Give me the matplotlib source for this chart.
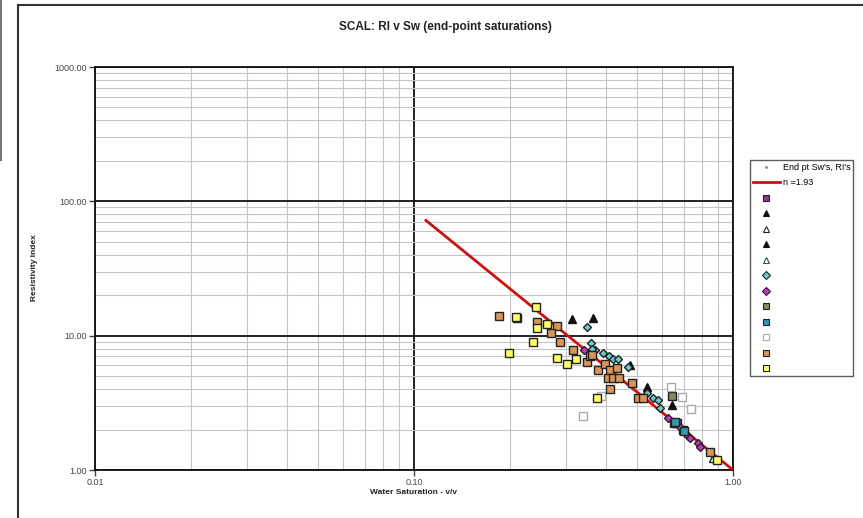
import numpy as np
import matplotlib
matplotlib.use("Agg")
import matplotlib.pyplot as plt
from matplotlib.lines import Line2D

plt.rcParams['font.family'] = ['Liberation Sans', 'DejaVu Sans']

# saturation exponent for the fitted line
n_exp = 1.93
fit_sw = [0.109, 1.0]

# end-point Sw / RI pairs, one list per sample group
purple_sw = [0.668, 0.697, 0.653]
purple_ri = [2.24, 1.99, 2.24]

tri_black_sw = [0.313, 0.364]
tri_black_ri = [13.3, 13.5]

tri_open_sw = [0.866]
tri_open_ri = [1.23]

tri_black2_sw = [0.538, 0.644, 0.475]
tri_black2_ri = [4.15, 3.05, 6.10]

tri_open2_sw = []
tri_open2_ri = []

cyan_sw = [0.348, 0.359, 0.369, 0.391, 0.409, 0.420, 0.436, 0.469,
           0.538, 0.561, 0.582, 0.590, 0.361]
cyan_ri = [11.6, 8.83, 7.83, 7.43, 7.06, 6.71, 6.71, 5.85,
           3.74, 3.44, 3.32, 2.89, 7.96]

magenta_sw = [0.626, 0.682, 0.707, 0.722, 0.733, 0.777, 0.788, 0.341]
magenta_ri = [2.44, 2.09, 1.89, 1.79, 1.73, 1.59, 1.48, 7.83]

grey_sq_sw = [0.644]
grey_sq_ri = [3.56]

teal_sq_sw = [0.658, 0.700]
teal_sq_ri = [2.28, 1.95]

open_sq_sw = [0.386, 0.339, 0.639, 0.692, 0.739]
open_sq_ri = [3.56, 2.52, 4.15, 3.50, 2.85]

tan_sw = [0.185, 0.210, 0.243, 0.281, 0.269, 0.287, 0.315, 0.348, 0.356,
          0.377, 0.412, 0.361, 0.397, 0.412, 0.433, 0.406, 0.420, 0.439,
          0.482, 0.504, 0.522, 0.847]
tan_ri = [14.0, 13.5, 12.6, 11.8, 10.5, 8.98, 7.83, 6.37, 7.06,
          5.55, 4.01, 7.18, 6.16, 5.55, 5.75, 4.84, 4.84, 4.84,
          4.44, 3.44, 3.44, 1.36]

yellow_sw = [0.209, 0.241, 0.243, 0.261, 0.236, 0.199, 0.281, 0.302,
             0.322, 0.375, 0.891]
yellow_ri = [13.8, 16.4, 11.4, 12.2, 8.98, 7.43, 6.82, 6.16,
             6.71, 3.44, 1.19]

fig = plt.figure(figsize=(8.63, 5.18), dpi=100)
fig.patch.set_facecolor('white')

# chart frame and the edge of the neighbouring panel
fig.add_artist(plt.Rectangle((18 / 863, -0.01), 0.99, 1 - 5 / 518 + 0.01,
                             transform=fig.transFigure, fill=False,
                             edgecolor='#333333', linewidth=1.5))
fig.add_artist(Line2D([1 / 863, 1 / 863], [1, 1 - 160 / 518],
                      transform=fig.transFigure, color='#777777', linewidth=1.5))

ax = fig.add_axes([95 / 863, 48 / 518, 638 / 863, 403 / 518])
ax.set_xscale('log')
ax.set_yscale('log')
ax.set_xlim(0.01, 1.0)
ax.set_ylim(1.0, 1000.0)

ax.grid(which='minor', color='#c4c4c4', linewidth=0.8)
ax.grid(which='major', color='#111111', linewidth=1.3)
ax.set_axisbelow(True)
for s in ax.spines.values():
    s.set_linewidth(1.3)
    s.set_color('#111111')

ax.set_xticks([0.01, 0.1, 1.0])
ax.set_xticklabels(['0.01', '0.10', '1.00'])
ax.set_yticks([1, 10, 100, 1000])
ax.set_yticklabels(['1.00', '10.00', '100.00', '1000.00'])
ax.tick_params(which='major', labelsize=6.5, length=4, width=1, colors='#444444', pad=2)
ax.tick_params(which='minor', length=0)

# Archie fit line RI = Sw^-n
fit_sw = np.array(fit_sw)
ax.plot(fit_sw, fit_sw ** (-n_exp), color='#cc1111', linewidth=2.0, zorder=3)

ed = '#222222'
series = [
    (purple_sw, purple_ri, dict(marker='s', mfc='#993399', mec=ed)),
    (tri_black_sw, tri_black_ri, dict(marker='^', mfc='#111111', mec='#111111')),
    (tri_open_sw, tri_open_ri, dict(marker='^', mfc='white', mec=ed)),
    (tri_black2_sw, tri_black2_ri, dict(marker='^', mfc='#111111', mec='#111111')),
    (tri_open2_sw, tri_open2_ri, dict(marker='^', mfc='white', mec='#335533')),
    (cyan_sw, cyan_ri, dict(marker='D', mfc='#66cccc', mec=ed)),
    (magenta_sw, magenta_ri, dict(marker='D', mfc='#cc33cc', mec=ed)),
    (grey_sq_sw, grey_sq_ri, dict(marker='s', mfc='#888866', mec=ed)),
    (teal_sq_sw, teal_sq_ri, dict(marker='s', mfc='#3399aa', mec=ed)),
    (open_sq_sw, open_sq_ri, dict(marker='s', mfc='white', mec='#aaaaaa')),
    (tan_sw, tan_ri, dict(marker='s', mfc='#d9955a', mec=ed)),
    (yellow_sw, yellow_ri, dict(marker='s', mfc='#ffff66', mec=ed)),
]
handles = [Line2D([], [], marker='.', markersize=2, color='#888888', linestyle='none'),
           Line2D([], [], color='#cc1111', linewidth=2.0)]
labels = ["End pt Sw's, RI's", 'n =' + f'{n_exp:.2f}']
for sw, ri, st in series:
    size = 4.5 if st['marker'] == 'D' else 5.5
    ax.plot(sw, ri, linestyle='none', markersize=size, markeredgewidth=1.0,
            zorder=4, **st)
    handles.append(Line2D([], [], linestyle='none', markersize=4.0,
                          markeredgewidth=0.8, **st))
    labels.append(' ')

fig.text(445 / 863, 1 - 27 / 518, 'SCAL: RI v Sw (end-point saturations)',
         ha='center', va='center', fontsize=8.5, fontweight='bold', color='#222222')
fig.text(34 / 863, 1 - 268 / 518, 'Resistivity Index', rotation=90,
         ha='center', va='center', fontsize=6, fontweight='bold', color='#222222')
fig.text(413 / 863, 1 - 492 / 518, 'Water Saturation - v/v',
         ha='center', va='center', fontsize=6, fontweight='bold', color='#222222')

leg = fig.legend(handles, labels, loc='upper left',
                 bbox_to_anchor=(750 / 863, 1 - 160 / 518),
                 fontsize=6.5, frameon=True, fancybox=False,
                 handlelength=3.0, handletextpad=0.3, labelspacing=0.72,
                 borderpad=0.3, borderaxespad=0)
leg.get_frame().set_edgecolor('#333333')
leg.get_frame().set_linewidth(1.0)

fig.savefig('out.png', dpi=100)
